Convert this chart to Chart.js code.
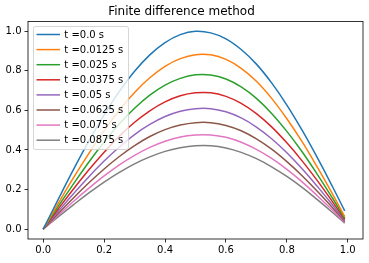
<!DOCTYPE html>
<html>
<head>
<meta charset="utf-8">
<script src="https://cdn.jsdelivr.net/npm/chart.js@4.4.0/dist/chart.umd.min.js"></script>
<style>
  body { margin: 0; background: #fff; }
  canvas { display: block; }
</style>
</head>
<body>
<canvas id="fdChart" width="369" height="263"></canvas>
<script>
// x positions along the rod
const xValues = [0, 0.05, 0.1, 0.15, 0.2, 0.25, 0.3, 0.35, 0.4, 0.45, 0.5,
                 0.55, 0.6, 0.65, 0.7, 0.75, 0.8, 0.85, 0.9, 0.95, 0.99];

const timeLabels = ['t =0.0 s', 't =0.0125 s', 't =0.025 s', 't =0.0375 s',
                    't =0.05 s', 't =0.0625 s', 't =0.075 s', 't =0.0875 s'];

// u(x), one array per time step
const u0 = [0, 0.153, 0.303, 0.446, 0.578, 0.696, 0.798, 0.881, 0.943, 0.983, 1.000,
            0.992, 0.962, 0.908, 0.834, 0.739, 0.627, 0.500, 0.361, 0.214, 0.092];
const u1 = [0, 0.132, 0.261, 0.383, 0.498, 0.601, 0.691, 0.765, 0.823, 0.862, 0.882,
            0.881, 0.858, 0.813, 0.747, 0.661, 0.558, 0.442, 0.313, 0.177, 0.063];
const u2 = [0, 0.117, 0.230, 0.339, 0.440, 0.532, 0.611, 0.677, 0.728, 0.762, 0.780,
            0.779, 0.759, 0.719, 0.661, 0.585, 0.494, 0.391, 0.277, 0.156, 0.056];
const u3 = [0, 0.103, 0.204, 0.300, 0.389, 0.470, 0.540, 0.598, 0.643, 0.674, 0.689,
            0.689, 0.671, 0.636, 0.584, 0.517, 0.436, 0.345, 0.245, 0.138, 0.050];
const u4 = [0, 0.091, 0.180, 0.265, 0.344, 0.415, 0.478, 0.529, 0.569, 0.596, 0.609,
            0.609, 0.593, 0.562, 0.516, 0.457, 0.386, 0.305, 0.216, 0.122, 0.044];
const u5 = [0, 0.080, 0.159, 0.234, 0.304, 0.367, 0.422, 0.468, 0.503, 0.526, 0.538,
            0.538, 0.524, 0.497, 0.456, 0.404, 0.341, 0.270, 0.191, 0.108, 0.039];
const u6 = [0, 0.071, 0.141, 0.207, 0.269, 0.325, 0.373, 0.413, 0.444, 0.466, 0.476,
            0.476, 0.464, 0.439, 0.403, 0.357, 0.302, 0.239, 0.169, 0.095, 0.034];
const u7 = [0, 0.063, 0.124, 0.183, 0.238, 0.287, 0.330, 0.365, 0.393, 0.411, 0.421,
            0.421, 0.410, 0.388, 0.356, 0.315, 0.266, 0.211, 0.149, 0.084, 0.030];

const xTicks = [0, 0.2, 0.4, 0.6, 0.8, 1.0];
const yTicks = [0, 0.2, 0.4, 0.6, 0.8, 1.0];

const lineColors = ['#1f77b4', '#ff7f0e', '#2ca02c', '#d62728',
                    '#9467bd', '#8c564b', '#e377c2', '#7f7f7f'];

const FONT = 'DejaVu Sans';

function toPoints(ys) {
    return ys.map((y, i) => ({ x: xValues[i], y: y }));
}

// black box around the plot area, like matplotlib spines
const framePlugin = {
    id: 'frame',
    afterDatasetsDraw(chart) {
        const a = chart.chartArea;
        const ctx = chart.ctx;
        ctx.save();
        ctx.strokeStyle = '#000';
        ctx.lineWidth = 0.8;
        ctx.strokeRect(a.left, a.top, a.right - a.left, a.bottom - a.top);
        ctx.restore();
    }
};

// legend drawn inside the upper-left corner of the plot
const innerLegend = {
    id: 'innerLegend',
    afterDraw(chart) {
        const ctx = chart.ctx;
        const left = 33.5, top = 26.5, w = 95, h = 123, r = 2;
        ctx.save();
        ctx.beginPath();
        ctx.roundRect(left, top, w, h, r);
        ctx.fillStyle = 'rgba(255,255,255,0.8)';
        ctx.fill();
        ctx.strokeStyle = 'rgba(204,204,204,0.8)';
        ctx.lineWidth = 1;
        ctx.stroke();

        ctx.font = '10px "' + FONT + '"';
        ctx.textBaseline = 'middle';
        ctx.fillStyle = '#000';
        chart.data.datasets.forEach((ds, i) => {
            const cy = 34.5 + i * 15.1;
            ctx.beginPath();
            ctx.moveTo(36.5, cy);
            ctx.lineTo(60, cy);
            ctx.strokeStyle = ds.borderColor;
            ctx.lineWidth = 1.5;
            ctx.stroke();
            ctx.fillText(ds.label, 64.3, cy + 0.5);
        });
        ctx.restore();
    }
};

const datasets = [u0, u1, u2, u3, u4, u5, u6, u7].map((ys, i) => ({
    label: timeLabels[i],
    data: toPoints(ys),
    borderColor: lineColors[i],
    backgroundColor: lineColors[i],
    borderWidth: 1.5,
    pointRadius: 0,
    fill: false,
    tension: 0.4
}));

const ctx = document.getElementById('fdChart').getContext('2d');
const fdChart = new Chart(ctx, {
    type: 'line',
    data: { datasets: datasets },
    options: {
        responsive: false,
        animation: false,
        devicePixelRatio: 1,
        layout: { padding: { left: 0, right: 6, top: 0, bottom: 0 } },
        plugins: {
            legend: { display: false },
            tooltip: { enabled: false },
            title: {
                display: true,
                text: 'Finite difference method',
                color: '#000',
                font: { family: FONT, size: 12, weight: 'normal' },
                padding: { top: 5, bottom: 2 }
            }
        },
        scales: {
            x: {
                type: 'linear',
                min: -0.05,
                max: 1.05,
                border: { display: false },
                grid: { drawOnChartArea: false, drawTicks: true, tickLength: 3.5, color: '#000', tickWidth: 0.8 },
                afterBuildTicks: scale => { scale.ticks = xTicks.map(v => ({ value: v })); },
                afterFit: scale => { scale.height = 24; },
                ticks: {
                    color: '#000',
                    padding: 2,
                    maxRotation: 0,
                    font: { family: FONT, size: 10 },
                    callback: v => v.toFixed(1)
                }
            },
            y: {
                type: 'linear',
                min: -0.05,
                max: 1.05,
                border: { display: false },
                grid: { drawOnChartArea: false, drawTicks: true, tickLength: 3.5, color: '#000', tickWidth: 0.8 },
                afterBuildTicks: scale => { scale.ticks = yTicks.map(v => ({ value: v })); },
                afterFit: scale => { scale.width = 28; },
                ticks: {
                    color: '#000',
                    padding: 3,
                    font: { family: FONT, size: 10 },
                    callback: v => v.toFixed(1)
                }
            }
        }
    },
    plugins: [framePlugin, innerLegend]
});
</script>
</body>
</html>
